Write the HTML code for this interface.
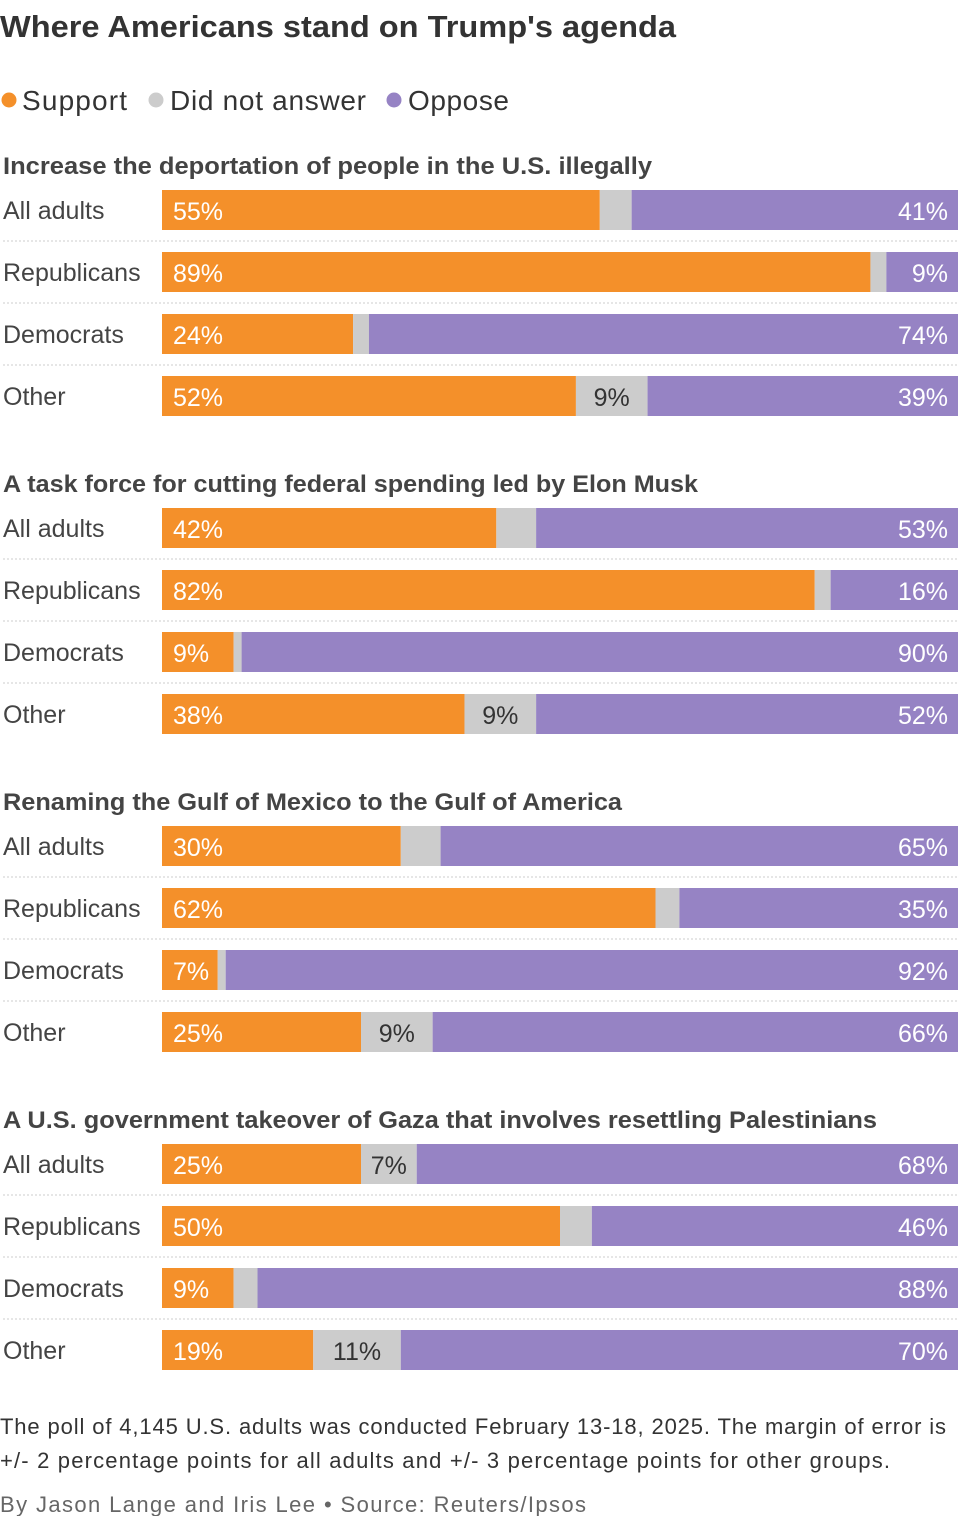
<!DOCTYPE html>
<html><head><meta charset="utf-8">
<style>
body{margin:0;background:#fff;width:960px;height:1516px;overflow:hidden;font-family:"Liberation Sans",sans-serif;}
svg{display:block}
</style></head>
<body>
<svg id="chart" width="960" height="1516">
<text x="0" y="37" font-size="31" font-weight="bold" fill="#333" textLength="676" lengthAdjust="spacingAndGlyphs">Where Americans stand on Trump's agenda</text>
<g>
<circle cx="9" cy="100" r="7.5" fill="#f4902a"/>
<text x="22" y="110" font-size="28" fill="#333" textLength="105">Support</text>
<circle cx="156" cy="100" r="7.5" fill="#cccccc"/>
<text x="170" y="110" font-size="28" fill="#333" textLength="196">Did not answer</text>
<circle cx="394" cy="100" r="7.5" fill="#9683c4"/>
<text x="408" y="110" font-size="28" fill="#333" textLength="101">Oppose</text>
</g>
<g id="bars"></g>
<text x="0" y="1434" font-size="22" fill="#333" textLength="946">The poll of 4,145 U.S. adults was conducted February 13-18, 2025. The margin of error is</text>
<text x="0" y="1468" font-size="22" fill="#333" textLength="890">+/- 2 percentage points for all adults and +/- 3 percentage points for other groups.</text>
<text x="0" y="1512" font-size="22" fill="#666" textLength="586">By Jason Lange and Iris Lee • Source: Reuters/Ipsos</text>
</svg>
<script>
const questions = ["Increase the deportation of people in the U.S. illegally","A task force for cutting federal spending led by Elon Musk","Renaming the Gulf of Mexico to the Gulf of America","A U.S. government takeover of Gaza that involves resettling Palestinians"];
const groups = ["All adults","Republicans","Democrats","Other"];
const support = [[55,89,24,52],[42,82,9,38],[30,62,7,25],[25,50,9,19]];
const oppose = [[41,9,74,39],[53,16,90,52],[65,35,92,66],[68,46,88,70]];
const noAnswer = [[4,2,2,9],[5,2,1,9],[5,3,1,9],[7,4,3,11]];
const titleWidths = [649,695,619,874];

const NS="http://www.w3.org/2000/svg";
const g=document.getElementById('bars');
const X0=162,W=796;
const x=v=>X0+v/100*W;
function mk(tag,attrs){const e=document.createElementNS(NS,tag);for(const k in attrs)e.setAttribute(k,attrs[k]);g.appendChild(e);return e;}
questions.forEach((q,qi)=>{
  const base=qi*318;
  const t=mk('text',{x:3,y:174+base,'font-size':24,'font-weight':'bold',fill:'#444',textLength:titleWidths[qi],lengthAdjust:'spacingAndGlyphs'});
  t.textContent=q;
  
  
  groups.forEach((gr,gi)=>{
    const top=190+base+gi*62;
    const lab=mk('text',{x:3,y:top+29,'font-size':25,fill:'#444'});
    lab.textContent=gr;
    
    
    if(gi<3){const l=mk('line',{x1:3,x2:958,y1:top+51,y2:top+51,stroke:'#ccc','stroke-dasharray':'2,2'});
      
      }
    const s=support[qi][gi],n=noAnswer[qi][gi],o=oppose[qi][gi];
    const r1=mk('rect',{x:x(0),y:top,width:x(s)-x(0),height:40,fill:'#f4902a'});
    
    
    const r2=mk('rect',{x:x(s),y:top,width:x(s+n)-x(s),height:40,fill:'#cccccc'});
    
    
    const r3=mk('rect',{x:x(s+n),y:top,width:x(100)-x(s+n),height:40,fill:'#9683c4'});
    
    
    const ts=mk('text',{x:x(0)+11,y:top+30,'font-size':25,fill:'#fff'});
    ts.textContent=s+'%';
    
    
    const to=mk('text',{x:x(100)-10,y:top+30,'font-size':25,fill:'#fff','text-anchor':'end'});
    to.textContent=o+'%';
    
    
    if(n>=7){const tn=mk('text',{x:(x(s)+x(s+n))/2,y:top+30,'font-size':25,fill:'#333','text-anchor':'middle'});
      tn.textContent=n+'%';
      
      }
  });
});
</script>
</body></html>
